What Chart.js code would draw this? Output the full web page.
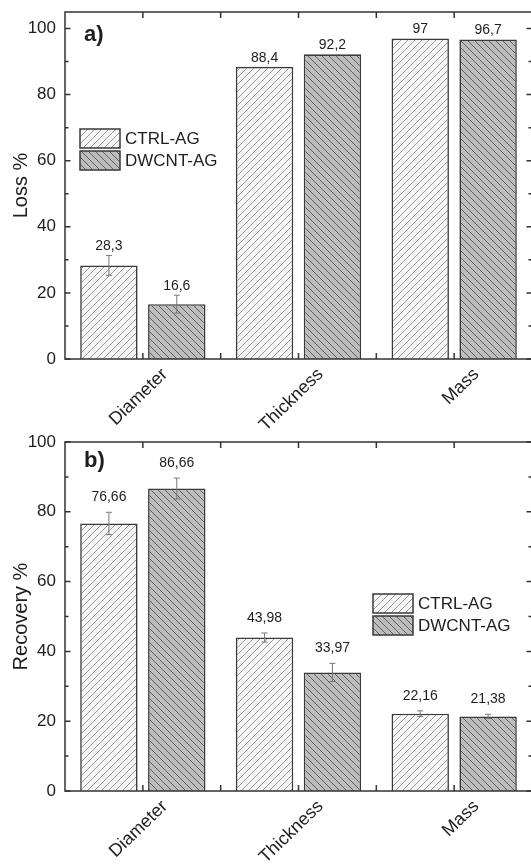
<!DOCTYPE html>
<html>
<head>
<meta charset="utf-8">
<script src="https://cdn.jsdelivr.net/npm/chart.js@4.4.1/dist/chart.umd.min.js"></script>
<style>
  html, body { margin: 0; padding: 0; background: #fff; overflow: hidden; }
  canvas { display: block; }
</style>
</head>
<body>
<canvas id="chartLoss" width="540" height="430"></canvas>
<canvas id="chartRecovery" width="540" height="437"></canvas>
<script>
// ---- DATA ----
const categories = ['Diameter', 'Thickness', 'Mass'];
const seriesNames = ['CTRL-AG', 'DWCNT-AG'];

const lossCtrl = [28.3, 88.4, 97];
const lossDwcnt = [16.6, 92.2, 96.7];
const lossCtrlErr = [3.0, 0, 0];
const lossDwcntErr = [2.7, 0, 0];

const recCtrl = [76.66, 43.98, 22.16];
const recDwcnt = [86.66, 33.97, 21.38];
const recCtrlErr = [3.2, 1.3, 0.8];
const recDwcntErr = [3.0, 2.6, 0.6];

const yTickLabels = [0, 20, 40, 60, 80, 100];
const yMinorTicks = [10, 30, 50, 70, 90];

// ---- STYLE ----
const FONT = "'Liberation Sans', Arial, sans-serif";
const INK = '#1e1e1e';
const EDGE = '#3a3a3a';

function hatch(bg, line, dir) {
    const s = 7, c = document.createElement('canvas');
    c.width = c.height = s;
    const g = c.getContext('2d');
    g.fillStyle = bg; g.fillRect(0, 0, s, s);
    g.strokeStyle = line; g.lineWidth = 1;
    g.beginPath();
    if (dir > 0) {          // '/'
        g.moveTo(-1, s + 1); g.lineTo(s + 1, -1);
        g.moveTo(-1, 1); g.lineTo(1, -1);
        g.moveTo(s - 1, s + 1); g.lineTo(s + 1, s - 1);
    } else {                // '\'
        g.moveTo(-1, -1); g.lineTo(s + 1, s + 1);
        g.moveTo(s - 1, -1); g.lineTo(s + 1, 1);
        g.moveTo(-1, s - 1); g.lineTo(1, s + 1);
    }
    g.stroke();
    return g.createPattern(c, 'repeat');
}

const PAT_CTRL = hatch('#f6f6f6', '#9a9a9a', 1);
const PAT_DW = hatch('#bdbdbd', '#5e5e5e', -1);

// ---- PLUGINS ----
const frame = {
    id: 'frame',
    afterDatasetsDraw(chart) {
        const { ctx, chartArea: a, scales: { x, y } } = chart;
        ctx.save();
        ctx.strokeStyle = '#333'; ctx.lineWidth = 1.5;
        ctx.strokeRect(a.left, a.top, a.right - a.left, a.bottom - a.top);
        ctx.beginPath();
        const yt = (v, len) => {
            const py = y.getPixelForValue(v);
            ctx.moveTo(a.left, py); ctx.lineTo(a.left + len, py);
            ctx.moveTo(a.right, py); ctx.lineTo(a.right - len, py);
        };
        yTickLabels.forEach(v => yt(v, 5.5));
        yMinorTicks.forEach(v => yt(v, 3.5));
        const step = x.getPixelForValue(1) - x.getPixelForValue(0);
        categories.forEach((c, i) => {
            [x.getPixelForValue(i), x.getPixelForValue(i) + step / 2].forEach(px => {
                ctx.moveTo(px, a.top); ctx.lineTo(px, a.top + 6);
                ctx.moveTo(px, a.bottom); ctx.lineTo(px, a.bottom - 6);
            });
        });
        ctx.stroke();
        ctx.restore();
    }
};

const errorBars = {
    id: 'errorBars',
    afterDatasetsDraw(chart, args, o) {
        const { ctx, scales: { y } } = chart;
        ctx.save();
        ctx.strokeStyle = '#777'; ctx.lineWidth = 1;
        ctx.fillStyle = INK;
        ctx.font = `14px ${FONT}`;
        ctx.textAlign = 'center'; ctx.textBaseline = 'bottom';
        chart.data.datasets.forEach((d, i) => {
            chart.getDatasetMeta(i).data.forEach((el, j) => {
                const v = d.data[j], e = d.errors[j];
                const top = y.getPixelForValue(v + e), bot = y.getPixelForValue(v - e);
                if (e > 0) {
                    ctx.beginPath();
                    ctx.moveTo(el.x, top); ctx.lineTo(el.x, bot);
                    ctx.moveTo(el.x - 3, top); ctx.lineTo(el.x + 3, top);
                    ctx.moveTo(el.x - 3, bot); ctx.lineTo(el.x + 3, bot);
                    ctx.stroke();
                }
                ctx.fillText(String(v).replace('.', ','), el.x, top - o.gap);
            });
        });
        ctx.restore();
    }
};

const boxLegend = {
    id: 'boxLegend',
    afterDraw(chart, args, o) {
        const { ctx } = chart;
        ctx.save();
        ctx.font = `17px ${FONT}`;
        ctx.textBaseline = 'middle'; ctx.textAlign = 'left';
        chart.data.datasets.forEach((d, i) => {
            const bx = o.x, by = o.y + i * 22;
            ctx.fillStyle = d.backgroundColor;
            ctx.fillRect(bx, by, 40, 19);
            ctx.strokeStyle = EDGE; ctx.lineWidth = 1.5;
            ctx.strokeRect(bx, by, 40, 19);
            ctx.fillStyle = INK;
            ctx.fillText(d.label, bx + 45, by + 10.5);
        });
        ctx.restore();
    }
};

const panelTag = {
    id: 'panelTag',
    afterDraw(chart, args, o) {
        const { ctx, chartArea: a } = chart;
        ctx.save();
        ctx.font = `bold 22px ${FONT}`;
        ctx.fillStyle = INK;
        ctx.textBaseline = 'middle';
        ctx.fillText(o.text, a.left + 19, a.top + o.dy);
        ctx.restore();
    }
};

// ---- CHARTS ----
function mkPanel(id, cfg) {
    return new Chart(document.getElementById(id), {
        type: 'bar',
        data: {
            labels: categories,
            datasets: [
                { label: seriesNames[0], data: cfg.ctrl, errors: cfg.ctrlErr,
                  backgroundColor: PAT_CTRL, borderColor: EDGE, borderWidth: 1.6 },
                { label: seriesNames[1], data: cfg.dw, errors: cfg.dwErr,
                  backgroundColor: PAT_DW, borderColor: EDGE, borderWidth: 1.6 },
            ]
        },
        options: {
            responsive: false, animation: false,
            categoryPercentage: 0.872, barPercentage: 0.846,
            layout: { padding: { top: 12, right: 8, left: 0, bottom: 0 } },
            plugins: {
                legend: { display: false }, tooltip: { enabled: false },
                errorBars: { gap: cfg.gap },
                boxLegend: cfg.legend,
                panelTag: cfg.tag,
            },
            scales: {
                x: {
                    offset: true,
                    grid: { display: false, drawTicks: false }, border: { display: false },
                    ticks: { color: INK, font: { family: FONT, size: 18 },
                             minRotation: 44, maxRotation: 44, labelOffset: 22,
                             padding: 5, autoSkip: false },
                    afterFit: s => { s.height = cfg.xh; s.paddingLeft = 0; s.paddingRight = 0; },
                },
                y: {
                    min: 0, max: cfg.ymax,
                    grid: { display: false, drawTicks: false }, border: { display: false },
                    ticks: { color: INK, font: { family: FONT, size: 17 }, padding: 9 },
                    afterBuildTicks: s => { s.ticks = yTickLabels.map(v => ({ value: v })); },
                    title: { display: true, text: cfg.title, color: INK,
                             font: { family: FONT, size: 20 }, padding: { top: 9, bottom: 0 } },
                    afterFit: s => { s.width = 65; s.paddingTop = 0; s.paddingBottom = 0; },
                }
            }
        },
        plugins: [frame, errorBars, boxLegend, panelTag],
    });
}

mkPanel('chartLoss', {
    ctrl: lossCtrl, dw: lossDwcnt, ctrlErr: lossCtrlErr, dwErr: lossDwcntErr,
    ymax: 105, xh: 71, title: 'Loss %', gap: 2,
    legend: { x: 80, y: 129 }, tag: { text: 'a)', dy: 23 },
});

mkPanel('chartRecovery', {
    ctrl: recCtrl, dw: recDwcnt, ctrlErr: recCtrlErr, dwErr: recDwcntErr,
    ymax: 100, xh: 76, title: 'Recovery %', gap: 8,
    legend: { x: 373, y: 164 }, tag: { text: 'b)', dy: 19 },
});
</script>
</body>
</html>
